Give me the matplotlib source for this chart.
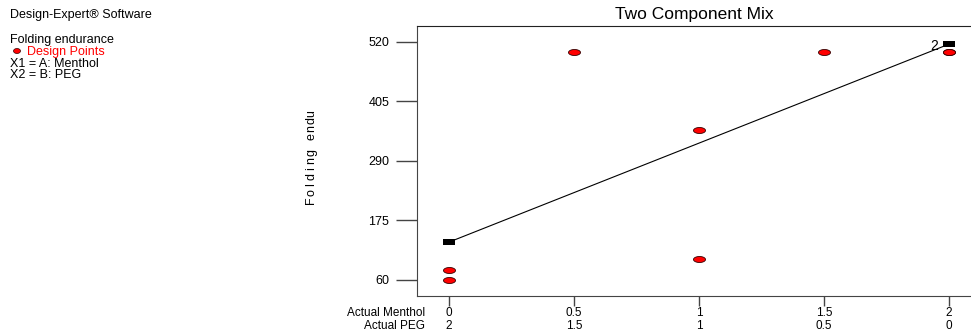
import matplotlib.pyplot as plt
from matplotlib.patches import Ellipse
from matplotlib.path import Path
from matplotlib.transforms import blended_transform_factory
import numpy as np

plt.rcParams['font.family'] = ['Liberation Sans', 'DejaVu Sans']

# design points
menthol = [0, 0, 0.5, 1, 1, 1.5, 2, 2]
folding = [60, 80, 500, 350, 100, 500, 500, 500]

# fitted line, predicted values at the two ends
fit_x = [0, 2]
fit_y = [133, 515]

xticks = [0, 0.5, 1, 1.5, 2]
menthol_labels = ['0', '0.5', '1', '1.5', '2']
peg_labels = ['2', '1.5', '1', '0.5', '0']
yticks = [60, 175, 290, 405, 520]

fig = plt.figure(figsize=(9.71, 3.34), dpi=100)
ax = fig.add_axes([417 / 971, 38 / 334, 554 / 971, 270 / 334])
ax.set_xlim(-0.128, 2.088)
ax.set_ylim(29, 550)

#plot
ax.plot(fit_x, fit_y, color='black', lw=0.8, zorder=2)
rect = Path([(-1, -0.45), (1, -0.45), (1, 0.45), (-1, 0.45), (-1, -0.45)], closed=True)
ax.scatter(fit_x, fit_y, marker=rect, s=70, color='black', lw=0, zorder=3)

t = np.linspace(0, 2 * np.pi, 40)
ell = Path(np.column_stack([np.cos(t), 0.5 * np.sin(t)]), closed=True)
ax.scatter(menthol, folding, marker=ell, s=75, color='red', edgecolors='#330000', lw=0.6, zorder=4)
ax.text(1.958, 511, '2', fontsize=10, ha='right', va='center')

ax.spines['right'].set_visible(False)
ax.spines['left'].set_color('#444444')
ax.spines['bottom'].set_color('#444444')
ax.spines['top'].set_color('#222222')

ax.set_yticks(yticks)
ax.set_yticklabels([str(v) for v in yticks], fontsize=9)
ax.tick_params(axis='y', length=15, width=1, color='#444444', pad=5)
ax.set_xticks(xticks)
ax.set_xticklabels([])
ax.tick_params(axis='x', length=7, width=1, color='#444444')

# two rows of x labels: Menthol and PEG
row1 = 1 - 313 / 334
row2 = 1 - 326 / 334
tr = blended_transform_factory(ax.transData, fig.transFigure)
for x, lab in zip(xticks, menthol_labels):
    ax.text(x, row1, lab, transform=tr, fontsize=8.5, ha='center', va='center')
for x, lab in zip(xticks, peg_labels):
    ax.text(x, row2, lab, transform=tr, fontsize=8.5, ha='center', va='center')

fig.text(425 / 971, row1, 'Actual Menthol', fontsize=8.5, ha='right', va='center')
fig.text(425 / 971, row2, 'Actual PEG', fontsize=8.5, ha='right', va='center')

fig.text(694 / 971, 1 - 14 / 334, 'Two Component Mix', fontsize=12.5, ha='center', va='center')

# y label, letters spaced out along the axis
ylab = 'Folding endu'
for i, ch in enumerate(ylab):
    fig.text(311 / 971, 1 - (200 - i * 7.9) / 334, ch, fontsize=9, rotation=90,
             ha='center', va='center')

fig.text(10 / 971, 1 - 15 / 334, 'Design-Expert® Software', fontsize=9, va='center')
fig.text(10 / 971, 1 - 40 / 334, 'Folding endurance', fontsize=9, va='center')
fig.text(27 / 971, 1 - 52 / 334, 'Design Points', fontsize=9, va='center', color='red')
fig.text(10 / 971, 1 - 64 / 334, 'X1 = A: Menthol', fontsize=9, va='center')
fig.text(10 / 971, 1 - 75 / 334, 'X2 = B: PEG', fontsize=9, va='center')
fig.add_artist(Ellipse((17 / 971, 1 - 51 / 334), 7 / 971, 5 / 334, facecolor='red', edgecolor='#330000', lw=0.5))

plt.savefig('out.png', dpi=100)
